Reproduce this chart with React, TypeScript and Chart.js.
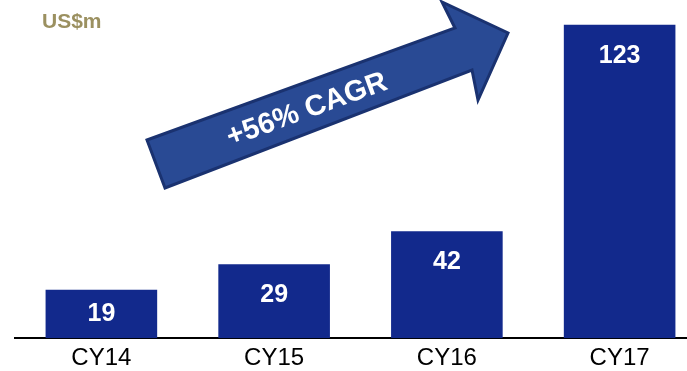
import React, { useEffect, useRef } from "react";
import { Chart, registerables } from "chart.js";

Chart.register(...registerables);

const categories = ["CY14", "CY15", "CY16", "CY17"];
const revenue = [19, 29, 42, 123];
const unitLabel = "US$m";
const cagrLabel = "+56% CAGR";

const FONT = "'Liberation Sans', Arial, Helvetica, sans-serif";
const BAR_COLOR = "#12298c";

const decorPlugin = {
  id: "decor",
  afterDatasetsDraw(chart: any) {
    const ctx = chart.ctx as CanvasRenderingContext2D;
    const meta = chart.getDatasetMeta(0);
    ctx.save();
    // value labels
    ctx.fillStyle = "#ffffff";
    ctx.font = `bold 25px ${FONT}`;
    ctx.textAlign = "center";
    ctx.textBaseline = "middle";
    meta.data.forEach((bar: any, i: number) => {
      const h = bar.base - bar.y;
      const y = bar.y + Math.min(h / 2, 31);
      ctx.fillText(String(revenue[i]), bar.x, y);
    });

    // unit label
    ctx.fillStyle = "#9b9060";
    ctx.font = `bold 21px ${FONT}`;
    ctx.textAlign = "left";
    ctx.textBaseline = "alphabetic";
    ctx.fillText(unitLabel, 42, 28);

    // CAGR arrow
    ctx.beginPath();
    ctx.moveTo(165, 188);
    ctx.lineTo(147, 140);
    ctx.lineTo(455, 28);
    ctx.lineTo(442, 2);
    ctx.lineTo(508, 33);
    ctx.lineTo(478, 100);
    ctx.lineTo(472, 70);
    ctx.closePath();
    ctx.fillStyle = "#294a94";
    ctx.fill();
    ctx.lineWidth = 3;
    ctx.lineJoin = "miter";
    ctx.strokeStyle = "#1a3270";
    ctx.stroke();

    ctx.translate(307, 110);
    ctx.rotate(-20 * Math.PI / 180);
    ctx.fillStyle = "#ffffff";
    ctx.font = `bold 29px ${FONT}`;
    ctx.textAlign = "center";
    ctx.textBaseline = "middle";
    ctx.fillText(cagrLabel, 0, 0);
    ctx.restore();
  },
};

export default function App() {
  const ref = useRef<HTMLCanvasElement | null>(null);
  useEffect(() => {
    if (!ref.current) return;
    const chart = new Chart(ref.current, {
      type: "bar",
      data: {
        labels: categories,
        datasets: [
          {
            data: revenue,
            backgroundColor: BAR_COLOR,
            borderWidth: 0,
            categoryPercentage: 1,
            barPercentage: 0.646,
          },
        ],
      },
      options: {
        animation: false,
        responsive: false,
        maintainAspectRatio: false,
        devicePixelRatio: 1,
        layout: { padding: { top: 7, left: 15, right: 0, bottom: 0 } },
        plugins: {
          legend: { display: false },
          tooltip: { enabled: false },
          title: { display: false },
        },
        scales: {
          x: {
            offset: true,
            grid: { display: false, drawTicks: false },
            border: { display: true, color: "#000000", width: 2 },
            ticks: {
              color: "#000000",
              font: { family: FONT, size: 24 },
              padding: 6,
            },
          },
          y: {
            display: false,
            min: 0,
            max: 130,
          },
        },
      },
      plugins: [decorPlugin],
    });
    return () => chart.destroy();
  }, []);
  return (
    <div
      style={{
        position: "fixed",
        left: 0,
        top: 0,
        width: 687,
        height: 371,
        overflow: "hidden",
        background: "#ffffff",
      }}
    >
      <canvas ref={ref} width={706} height={379} style={{ display: "block" }} />
    </div>
  );
}
